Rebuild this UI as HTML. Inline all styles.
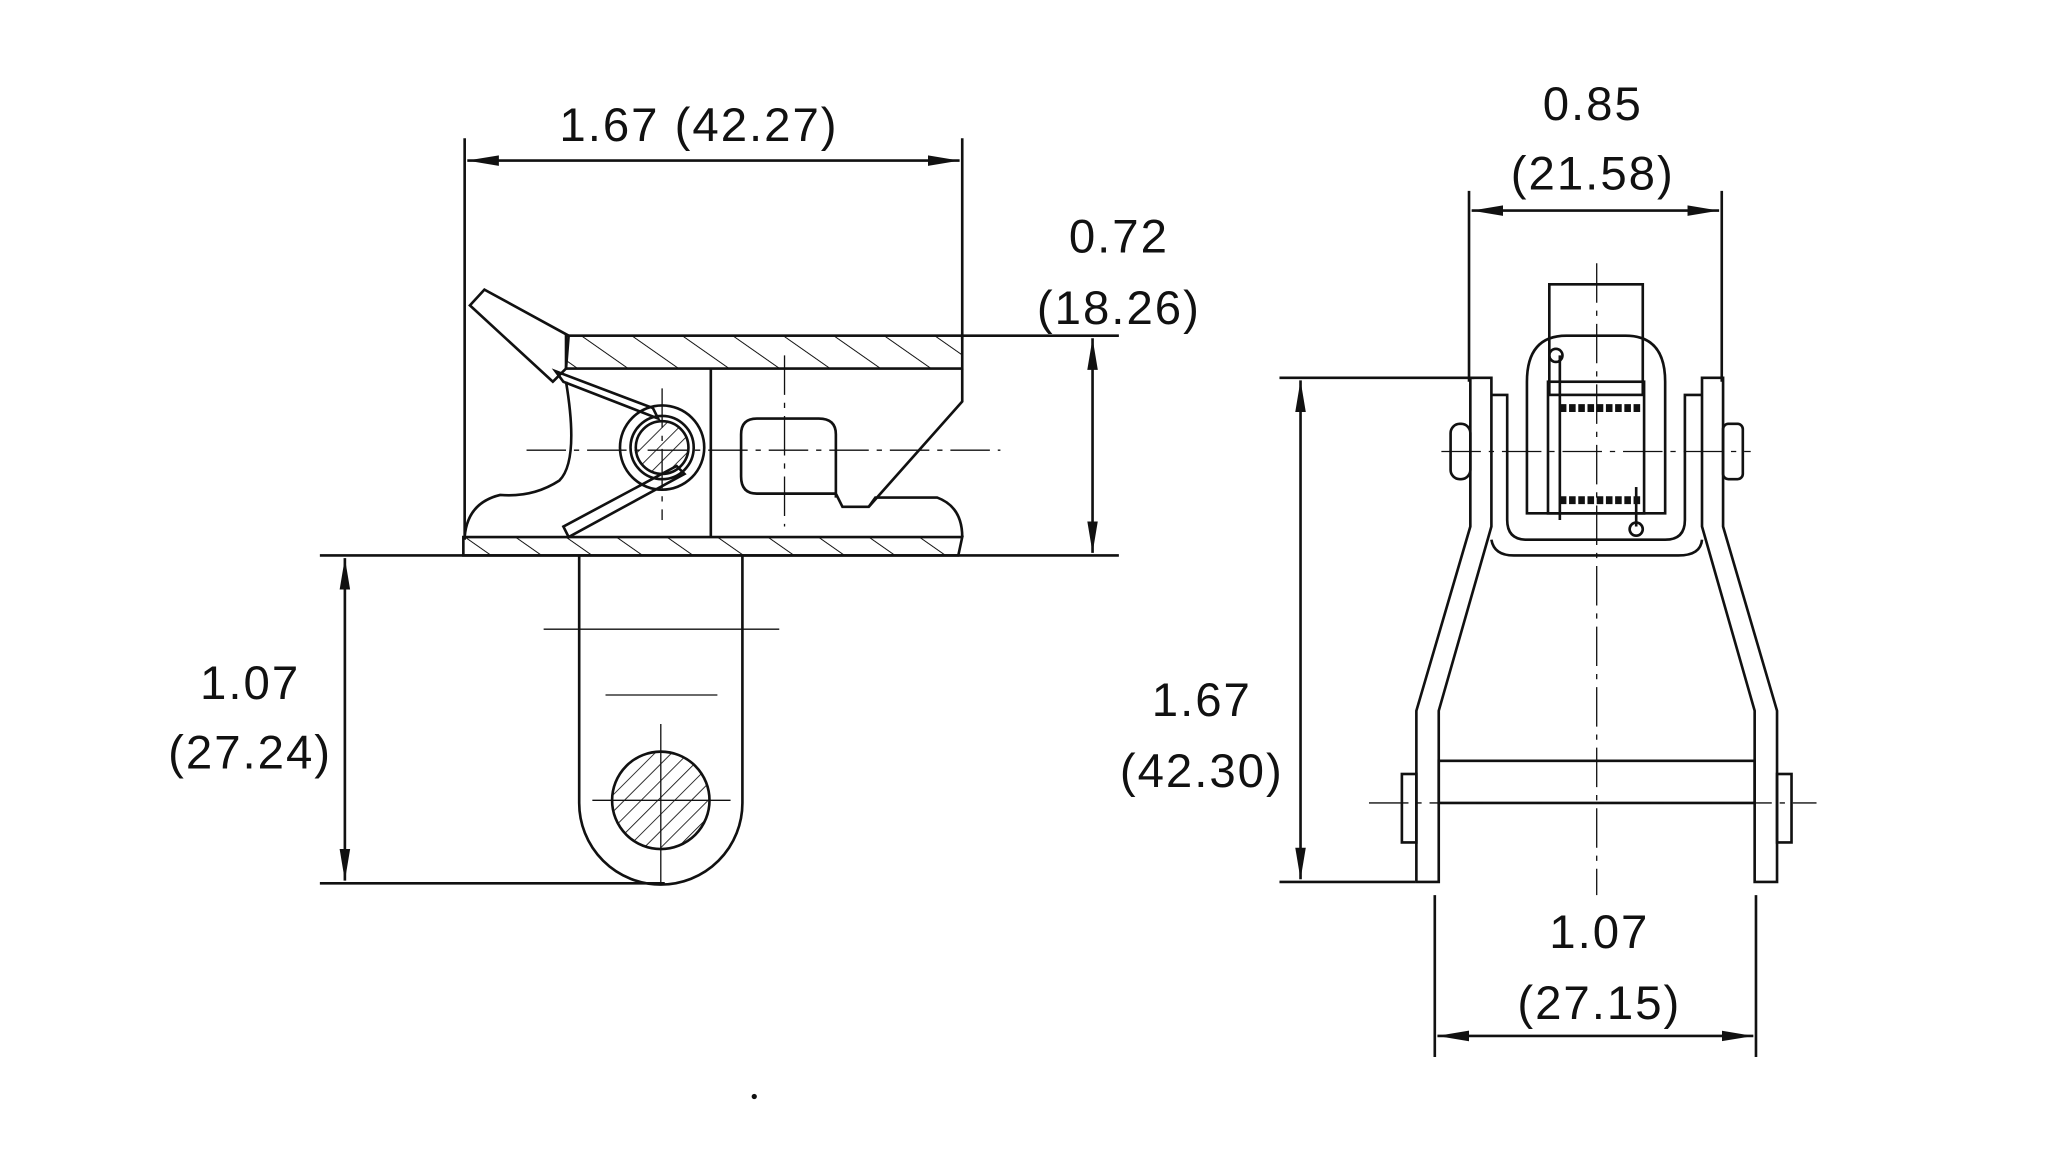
<!DOCTYPE html>
<html><head><meta charset="utf-8"><style>
html,body{margin:0;padding:0;background:#fff;}
svg{display:block;}
text{font-family:"Liberation Sans",sans-serif;font-size:36px;letter-spacing:1.5px;fill:#111;text-anchor:middle;}
</style></head><body>
<svg width="2064" height="1161" viewBox="0 0 1568 882" xmlns="http://www.w3.org/2000/svg">
<defs>
<pattern id="h" patternUnits="userSpaceOnUse" width="22" height="22" patternTransform="rotate(-55)">
<line x1="0" y1="0" x2="0" y2="22" stroke="#111" stroke-width="1.5"/></pattern>
<pattern id="h2" patternUnits="userSpaceOnUse" width="9" height="9" patternTransform="rotate(45)">
<line x1="0" y1="0" x2="0" y2="9" stroke="#111" stroke-width="1.3"/></pattern>
<marker id="a" markerWidth="24" markerHeight="10" refX="24" refY="5" orient="auto-start-reverse" markerUnits="userSpaceOnUse">
<path d="M0,1 L24,5 L0,9 Z" fill="#111"/></marker>
</defs>
<g stroke="#111" stroke-width="2" fill="none">
<line x1="353" y1="105" x2="353" y2="410"/>
<line x1="731" y1="105" x2="731" y2="258"/>
<line x1="355" y1="122" x2="729" y2="122" marker-start="url(#a)" marker-end="url(#a)"/>
<line x1="731" y1="255" x2="850" y2="255"/>
<line x1="243" y1="422" x2="850" y2="422"/>
<line x1="830" y1="257" x2="830" y2="420" marker-start="url(#a)" marker-end="url(#a)"/>
<line x1="243" y1="671" x2="505" y2="671"/>
<line x1="262" y1="424" x2="262" y2="669" marker-start="url(#a)" marker-end="url(#a)"/>
<rect x="430" y="255" width="301" height="25" fill="url(#h)"/>
<path d="M357,232 L368,220 L432,255 L430,280 L420,290 Z"/>
<path d="M731,280 L731,305 L660,385 L640,385 L635,375 L575,375 Q563,375 563,362 L563,330 Q563,318 575,318 L622,318 Q635,318 635,330 L635,378"/>
<path d="M660,385 L665,378 L712,378 Q731,385 731,408"/>
<path d="M540,280 L540,408"/>
<path d="M430,290 Q440,350 425,365 Q405,378 380,376 Q355,382 353,408"/>
<path d="M422,282 L428,290 L500,318 L496,310 Z"/>
<path d="M428,400 L432,408 L520,360 L514,354 Z"/>
<circle cx="503" cy="340" r="32"/>
<circle cx="503" cy="340" r="24"/>
<circle cx="503" cy="340" r="20" fill="url(#h2)"/>
<line x1="400" y1="342" x2="760" y2="342" stroke-dasharray="30,6,4,6" stroke-width="1"/>
<line x1="596" y1="270" x2="596" y2="400" stroke-dasharray="30,6,4,6" stroke-width="1"/>
<line x1="503" y1="295" x2="503" y2="395" stroke-dasharray="30,6,4,6" stroke-width="1"/>
<path d="M352,408 L731,408 L728,422 L352,422 Z" fill="url(#h)"/>
<path d="M440,422 L440,610 A62,62 0 0 0 564,610 L564,422"/>
<line x1="413" y1="478" x2="592" y2="478" stroke-width="1"/>
<line x1="460" y1="528" x2="545" y2="528" stroke-width="1"/>
<circle cx="502" cy="608" r="37" fill="url(#h2)"/>
<line x1="502" y1="550" x2="502" y2="672" stroke-width="1"/>
<line x1="450" y1="608" x2="555" y2="608" stroke-width="1"/>

<line x1="1116" y1="145" x2="1116" y2="290"/>
<line x1="1308" y1="145" x2="1308" y2="290"/>
<line x1="1118" y1="160" x2="1306" y2="160" marker-start="url(#a)" marker-end="url(#a)"/>
<line x1="972" y1="287" x2="1120" y2="287"/>
<line x1="972" y1="670" x2="1075" y2="670"/>
<line x1="988" y1="289" x2="988" y2="668" marker-start="url(#a)" marker-end="url(#a)"/>
<line x1="1090" y1="680" x2="1090" y2="803"/>
<line x1="1334" y1="680" x2="1334" y2="803"/>
<line x1="1092" y1="787" x2="1332" y2="787" marker-start="url(#a)" marker-end="url(#a)"/>
<path d="M1117,287 L1133,287 L1133,400 L1093,540 L1093,670 L1076,670 L1076,540 L1117,400 Z"/>
<path d="M1309,287 L1293,287 L1293,400 L1333,540 L1333,670 L1350,670 L1350,540 L1309,400 Z"/>
<rect x="1093" y="578" width="240" height="32"/>
<rect x="1065" y="588" width="11" height="52"/>
<rect x="1350" y="588" width="11" height="52"/>
<line x1="1040" y1="610" x2="1380" y2="610" stroke-dasharray="30,6,4,6" stroke-width="1"/>
<path d="M1133,300 L1145,300 L1145,395 Q1145,410 1160,410 L1265,410 Q1280,410 1280,395 L1280,300 L1293,300"/>
<path d="M1133,410 Q1135,422 1150,422 L1275,422 Q1292,422 1293,410"/>
<path d="M1160,390 L1160,290 Q1160,255 1190,255 L1235,255 Q1265,255 1265,290 L1265,390 Z"/>
<rect x="1177" y="216" width="71" height="84"/>
<rect x="1176" y="290" width="73" height="100"/>
<path d="M1185,310 L1248,310 M1185,380 L1248,380" stroke-width="6" stroke-dasharray="5,2"/>
<line x1="1185" y1="270" x2="1185" y2="395"/>
<line x1="1243" y1="370" x2="1243" y2="400"/>
<circle cx="1182" cy="270" r="5"/>
<circle cx="1243" cy="402" r="5"/>
<rect x="1102" y="322" width="15" height="42" rx="7"/>
<rect x="1309" y="322" width="15" height="42" rx="4"/>
<line x1="1095" y1="343" x2="1330" y2="343" stroke-dasharray="30,6,4,6" stroke-width="1"/>
<line x1="1213" y1="200" x2="1213" y2="680" stroke-dasharray="30,6,4,6" stroke-width="1"/>
</g>
<text x="531" y="107">1.67 (42.27)</text>
<text x="850" y="192">0.72</text>
<text x="850" y="246">(18.26)</text>
<text x="190" y="531">1.07</text>
<text x="190" y="584">(27.24)</text>
<text x="1210" y="91">0.85</text>
<text x="1210" y="144">(21.58)</text>
<text x="913" y="544">1.67</text>
<text x="913" y="598">(42.30)</text>
<text x="1215" y="720">1.07</text>
<text x="1215" y="774">(27.15)</text>
<circle cx="573" cy="833" r="2" fill="#111"/>
</svg>
</body></html>
